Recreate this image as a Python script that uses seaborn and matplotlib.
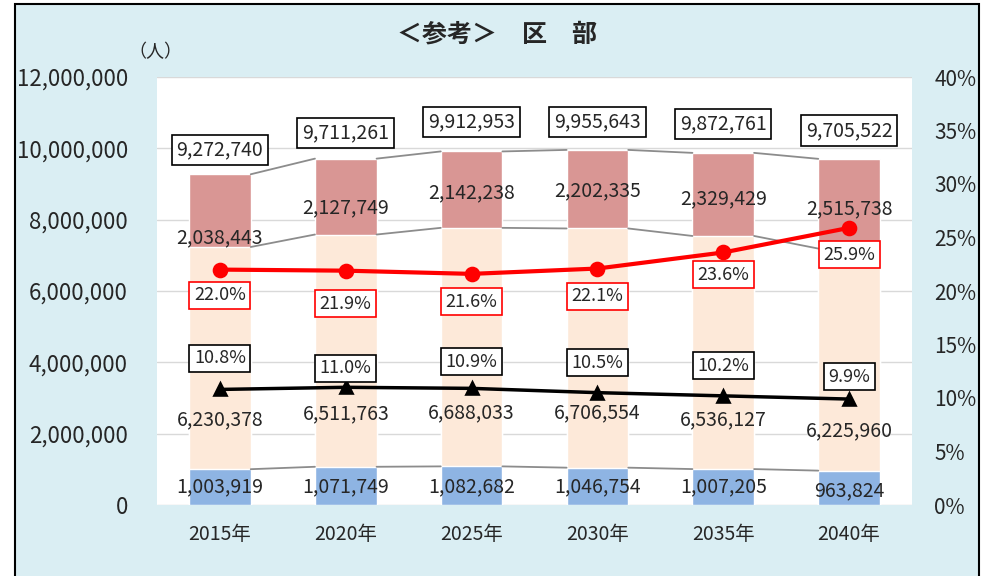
import numpy as np
import pandas as pd
import seaborn as sns
import matplotlib
matplotlib.use("Agg")
import matplotlib.pyplot as plt
from matplotlib.patches import Rectangle
import matplotlib.ticker as ticker

sns.set_style("white")
plt.rcParams['font.family'] = ['Noto Sans CJK JP', 'DejaVu Sans']

# data
years = ["2015年", "2020年", "2025年", "2030年", "2035年", "2040年"]
bottom = [1003919, 1071749, 1082682, 1046754, 1007205, 963824]
middle = [6230378, 6511763, 6688033, 6706554, 6536127, 6225960]
top = [2038443, 2127749, 2142238, 2202335, 2329429, 2515738]
total = [9272740, 9711261, 9912953, 9955643, 9872761, 9705522]
red_pct = [22.0, 21.9, 21.6, 22.1, 23.6, 25.9]
black_pct = [10.8, 11.0, 10.9, 10.5, 10.2, 9.9]

# label placement (layout only)
total_lab_y = [9.95e6, 10.43e6, 10.74e6, 10.74e6, 10.68e6, 10.49e6]
top_lab_y = [7.49e6, 8.33e6, 8.75e6, 8.80e6, 8.58e6, 8.30e6]
mid_lab_y = [2.38e6, 2.55e6, 2.58e6, 2.58e6, 2.38e6, 2.07e6]
bot_lab_y = [0.50e6, 0.50e6, 0.50e6, 0.50e6, 0.50e6, 0.39e6]
red_lab_y = [19.6, 18.8, 19.0, 19.5, 21.5, 23.4]
black_lab_y = [13.7, 12.8, 13.4, 13.3, 13.0, 12.0]

BG = "#DAEEF3"
C_BOT = "#8EB4E3"
C_MID = "#FDE9D9"
C_TOP = "#D99694"
W = 0.49

df = pd.DataFrame({"year": years, "bottom": bottom, "middle": middle, "top": top})
df["cum_mid"] = df["bottom"] + df["middle"]
df["cum_top"] = df["cum_mid"] + df["top"]

fig = plt.figure(figsize=(9.89, 5.76), dpi=100, facecolor=BG)
ax = fig.add_axes([157/989, 1-505/576, (912-157)/989, (505-77)/576])
ax.set_facecolor("white")

sns.barplot(data=df, x="year", y="cum_top", color=C_TOP, width=W, saturation=1, ax=ax, zorder=2)
sns.barplot(data=df, x="year", y="cum_mid", color=C_MID, width=W, saturation=1, ax=ax, zorder=2)
sns.barplot(data=df, x="year", y="bottom", color=C_BOT, width=W, saturation=1, ax=ax, zorder=2)

# connector lines between bars
for col in ["bottom", "cum_mid", "cum_top"]:
    vals = df[col].values
    for i in range(len(vals) - 1):
        ax.plot([i + W/2, i + 1 - W/2], [vals[i], vals[i+1]], color="#8C8C8C", lw=1.3, zorder=3)

ax.set_ylim(0, 12e6)
ax.set_xlim(-0.5, 5.5)
ax.yaxis.set_major_locator(ticker.MultipleLocator(2e6))
ax.yaxis.set_major_formatter(ticker.FuncFormatter(lambda v, p: f"{int(v):,}"))
ax.grid(axis="y", color="#D9D9D9", lw=1, zorder=0)
ax.set_axisbelow(True)
for s in ax.spines.values():
    s.set_visible(False)
ax.tick_params(axis="y", length=0, pad=21, labelsize=16)
ax.tick_params(axis="x", length=0, pad=14, labelsize=14)
ax.set_xlabel("")
ax.set_ylabel("")

fs = 14
for i in range(len(years)):
    ax.text(i, total_lab_y[i], f"{total[i]:,}", ha="center", va="center", fontsize=fs, zorder=6,
            bbox=dict(boxstyle="square,pad=0.25", fc="white", ec="black", lw=1.2))
    ax.text(i, top_lab_y[i], f"{top[i]:,}", ha="center", va="center", fontsize=fs, zorder=6)
    ax.text(i, mid_lab_y[i], f"{middle[i]:,}", ha="center", va="center", fontsize=fs, zorder=6)
    ax.text(i, bot_lab_y[i], f"{bottom[i]:,}", ha="center", va="center", fontsize=fs, zorder=6)

ax2 = ax.twinx()
ax2.patch.set_visible(False)
sns.pointplot(x=years, y=red_pct, color="#FF0000", markers="o", markersize=9, linewidth=3, ax=ax2)
sns.pointplot(x=years, y=black_pct, color="black", markers="^", markersize=9, linewidth=2.5, ax=ax2)
ax2.set_ylim(0, 40)
ax2.set_xlim(-0.5, 5.5)
ax2.yaxis.set_major_locator(ticker.MultipleLocator(5))
ax2.yaxis.set_major_formatter(ticker.FuncFormatter(lambda v, p: f"{int(v)}%"))
ax2.tick_params(axis="y", length=0, pad=16, labelsize=15)
ax2.set_ylabel("")
ax2.grid(False)
for s in ax2.spines.values():
    s.set_visible(False)

for i in range(len(years)):
    ax2.text(i, red_lab_y[i], f"{red_pct[i]:.1f}%", ha="center", va="center", fontsize=13, zorder=6,
             bbox=dict(boxstyle="square,pad=0.25", fc="white", ec="#FF0000", lw=1.2))
    ax2.text(i, black_lab_y[i], f"{black_pct[i]:.1f}%", ha="center", va="center", fontsize=13, zorder=6,
             bbox=dict(boxstyle="square,pad=0.25", fc="white", ec="black", lw=1.2))

fig.text(497/989, 1-35/576, "＜参考＞\u3000区\u3000部", ha="center", va="center", fontsize=18, fontweight="bold")
fig.text(155/989, 1-52/576, "（人）", ha="center", va="center", fontsize=13)

fig.patches.append(Rectangle((15/989, -0.02), (979-15)/989, 1.02 - 4/576, transform=fig.transFigure,
                             fill=False, ec="black", lw=1.5, zorder=10))
fig.patches.append(Rectangle((0, 0), 14/989, 1, transform=fig.transFigure, fc="white", ec="none", zorder=9))
fig.patches.append(Rectangle((980/989, 0), 9/989, 1, transform=fig.transFigure, fc="white", ec="none", zorder=9))
fig.patches.append(Rectangle((0, 1-3/576), 1, 3/576, transform=fig.transFigure, fc="white", ec="none", zorder=9))

fig.savefig("out.png", dpi=100, facecolor=BG)
